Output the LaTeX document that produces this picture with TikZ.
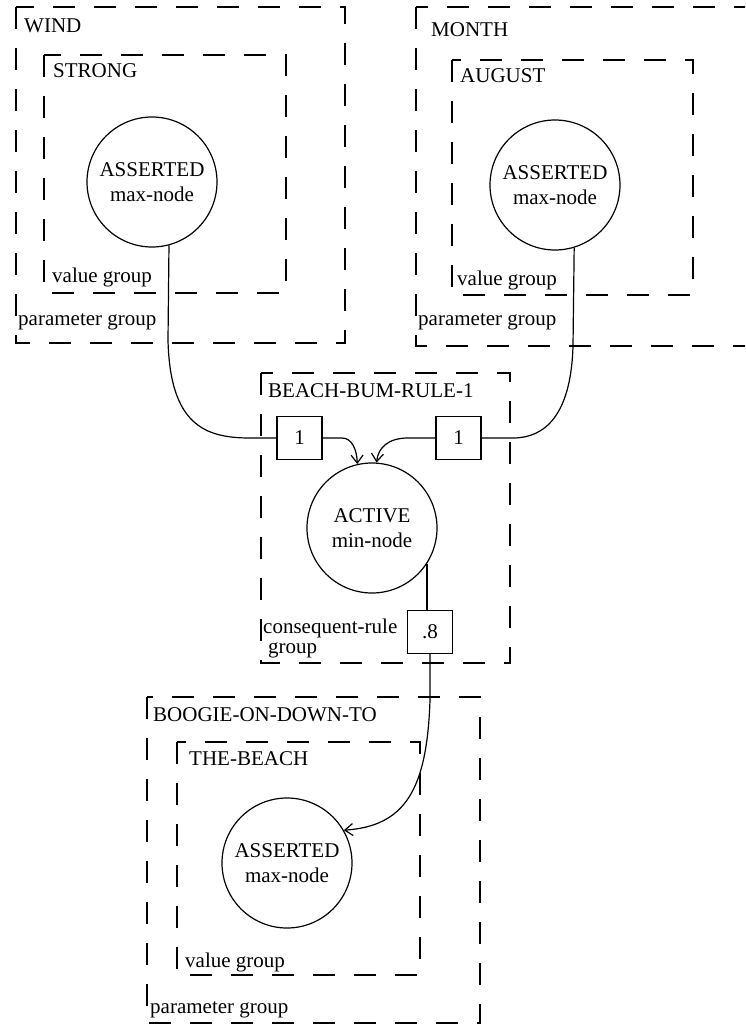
\documentclass[tikz,border=0pt]{standalone}
\usepackage{fontspec}
\setmainfont{Liberation Serif}
\usetikzlibrary{arrows.meta}

\begin{document}
\begin{tikzpicture}[x=1pt, y=-1pt, every node/.style={font=\fontsize{21}{25}\selectfont},
      grp/.style={draw, line width=1.4pt, dash pattern=on 22pt off 19pt},
      nd/.style={draw, circle, line width=1.2pt, minimum size=130pt, align=center, inner sep=0pt},
      wt/.style={draw, line width=1.2pt, minimum width=45pt, minimum height=43pt, inner sep=0pt},
      lbl/.style={anchor=base west, inner sep=0pt},
      wire/.style={line width=1.2pt},
      arr/.style={wire, -{Straight Barb[length=8pt, width=12pt, line width=1.2pt]}}]
    \clip (0,0) rectangle (745,1030);
    % groups
    \foreach \a/\b in {{16,7}/{345,343}, {44,55}/{286,293}, {416,7}/{780,346}, {452,60}/{693,295},
                       {261,373}/{510,663}, {147,697}/{480,1023}, {177,742}/{420,975}} {
      \draw[grp] (\a) rectangle (\b);
    }
    \foreach \x/\y/\t [count=\k] in {24/33/WIND, 53/78/STRONG, 52/282/value group, 18/325/parameter group,
                       431/37/MONTH, 460/83/AUGUST, 457/285/value group, 418/325/parameter group,
                       268/397/BEACH-BUM-RULE-1, 263/633/consequent-rule, 268/653/group,
                       153/721/BOOGIE-ON-DOWN-TO, 189/765/THE-BEACH, 185/967/value group, 150/1013/parameter group} {
      \node[lbl] (lbl\k) at (\x,\y) {\t};
    }
    % nodes
    \node[nd] (wind)   at (152,182) {ASSERTED\\max-node};
    \node[nd] (month)  at (555,185) {ASSERTED\\max-node};
    \node[nd] (active) at (372,528) {ACTIVE\\min-node};
    \node[nd] (beach)  at (287,863) {ASSERTED\\max-node};
    \node[wt] (w1) at (299.5,438) {1};
    \node[wt] (w2) at (458.5,438) {1};
    \node[wt] (w3) at (430,632) {.8};
    % connectors
    \draw[wire] (wind.-75) -- (168,340) .. controls (170,425) and (205,438) .. (250,438) -- (w1.west);
    \draw[arr] (w1.east) -- (342,438) .. controls (352,438) and (357,450) .. (active.103);
    \draw[wire] (month.-73) -- (573,346) .. controls (571,415) and (545,438) .. (513,438) -- (w2.east);
    \draw[arr] (w2.west) -- (408,438) .. controls (388,438) and (378,448) .. (active.86);
    \draw[wire] (active.-33) -- (active.-33 |- w3.north);
    \draw[arr] (w3.south) -- (430,700) .. controls (427,790) and (405,826) .. (beach.30);
  \end{tikzpicture}
\end{document}
